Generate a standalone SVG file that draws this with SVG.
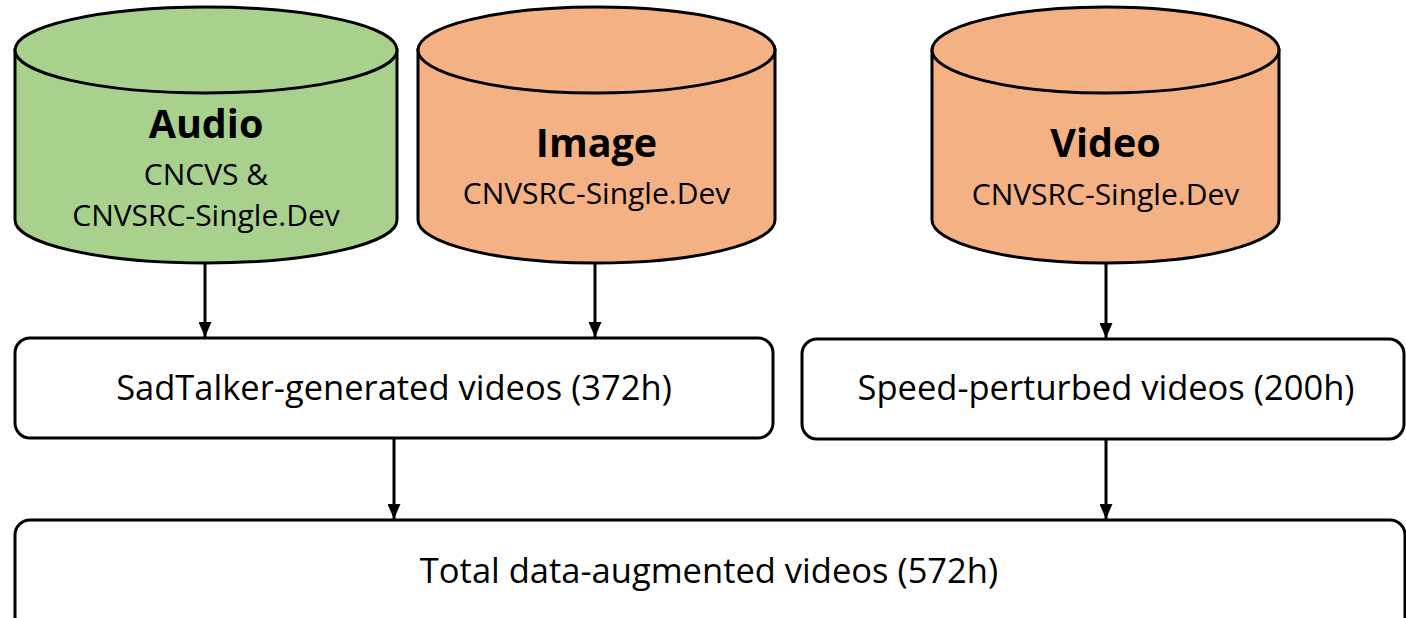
<svg xmlns="http://www.w3.org/2000/svg" width="1406" height="618" viewBox="0 0 1406 618">
  <defs>
    <style>
      .cyl { stroke: #000; stroke-width: 3; }
      .green { fill: #A9D18E; }
      .orange { fill: #F4B183; }
      .box { fill: #fff; stroke: #000; stroke-width: 3; }
      .title { font-family: "Open Sans", "Noto Sans", sans-serif; font-weight: 700; font-size: 39.5px; fill: #000; text-anchor: middle; }
      .sub { font-family: "Open Sans", "Noto Sans", sans-serif; font-size: 30px; fill: #000; text-anchor: middle; }
      .lbl { font-family: "Open Sans", "Noto Sans", sans-serif; font-size: 34.5px; fill: #000; text-anchor: middle; }
      .conn { stroke: #000; stroke-width: 3; fill: none; marker-end: url(#arrow); }
    </style>
    <marker id="arrow" viewBox="0 0 15 13" refX="15" refY="6.5" markerWidth="15" markerHeight="13" markerUnits="userSpaceOnUse" orient="auto">
      <path d="M0,0 L15,6.5 L0,13 Z" fill="#000"/>
    </marker>
  </defs>
  <rect width="1406" height="618" fill="#fff"/>

  <!-- Audio source cylinder -->
  <g id="audio">
    <path class="cyl green" d="M15,50 L15,220 A191,43 0 0 0 397,220 L397,50 Z"/>
    <ellipse class="cyl green" cx="206" cy="50" rx="191" ry="43"/>
    <text class="title" x="206" y="138">Audio</text>
    <text class="sub" x="206" y="184.5">CNCVS &amp;</text>
    <text class="sub" x="206" y="226">CNVSRC-Single.Dev</text>
  </g>

  <!-- Image source cylinder -->
  <g id="image">
    <path class="cyl orange" d="M418,50 L418,220 A178.5,43 0 0 0 775,220 L775,50 Z"/>
    <ellipse class="cyl orange" cx="596.5" cy="50" rx="178.5" ry="43"/>
    <text class="title" x="596.5" y="157">Image</text>
    <text class="sub" x="596.5" y="204">CNVSRC-Single.Dev</text>
  </g>

  <!-- Video source cylinder -->
  <g id="video">
    <path class="cyl orange" d="M932,50 L932,220 A173.5,43 0 0 0 1279,220 L1279,50 Z"/>
    <ellipse class="cyl orange" cx="1105.5" cy="50" rx="173.5" ry="43"/>
    <text class="title" x="1105.5" y="157">Video</text>
    <text class="sub" x="1105.5" y="205">CNVSRC-Single.Dev</text>
  </g>

  <!-- Processing boxes -->
  <g id="sadtalker">
    <rect class="box" x="15" y="338" width="758" height="100" rx="15"/>
    <text class="lbl" x="394" y="400">SadTalker-generated videos (372h)</text>
  </g>
  <g id="speed">
    <rect class="box" x="802" y="339" width="602" height="100" rx="15"/>
    <text class="lbl" x="1106" y="400">Speed-perturbed videos (200h)</text>
  </g>
  <g id="total">
    <rect class="box" x="15" y="520" width="1390" height="130" rx="15"/>
    <text class="lbl" x="709" y="583">Total data-augmented videos (572h)</text>
  </g>

  <!-- Connectors -->
  <g id="connectors">
    <line class="conn" x1="205" y1="263" x2="205" y2="337"/>
    <line class="conn" x1="595" y1="263" x2="595" y2="337"/>
    <line class="conn" x1="1106" y1="263" x2="1106" y2="338"/>
    <line class="conn" x1="394" y1="439" x2="394" y2="519"/>
    <line class="conn" x1="1106" y1="440" x2="1106" y2="519"/>
  </g>
</svg>
